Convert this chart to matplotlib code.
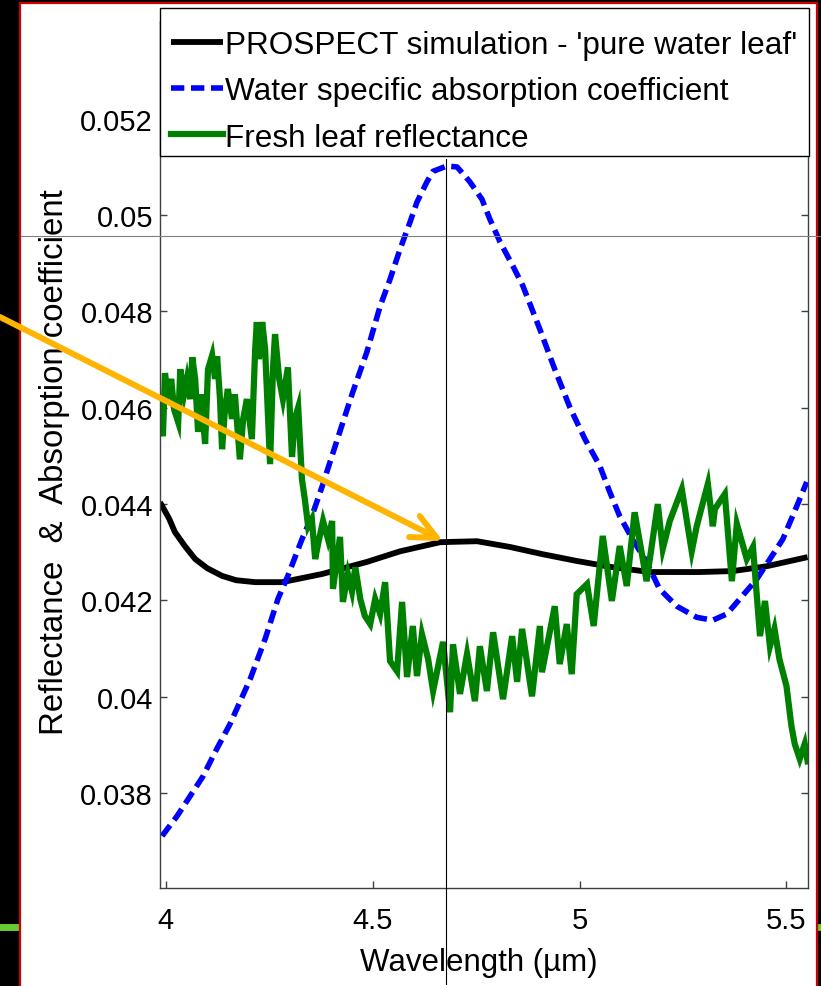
import matplotlib
matplotlib.use("Agg")
import matplotlib.pyplot as plt
from matplotlib.patches import Rectangle
from matplotlib.lines import Line2D

plt.rcParams['font.family'] = ['Liberation Sans', 'DejaVu Sans']

# PROSPECT simulation - 'pure water leaf'
wl_prospect = [3.986, 4.008, 4.022, 4.046, 4.071, 4.100, 4.136, 4.170, 4.216, 4.281,
               4.378, 4.486, 4.566, 4.663, 4.752, 4.832, 4.911, 4.993, 5.080, 5.170,
               5.290, 5.370, 5.452, 5.551]
prospect = [0.04404, 0.04370, 0.04342, 0.04313, 0.04286, 0.04267, 0.04251, 0.04242, 0.04238, 0.04238,
            0.04255, 0.04280, 0.04302, 0.04321, 0.04323, 0.04311, 0.04296, 0.04282, 0.04269, 0.04259,
            0.04259, 0.04261, 0.04271, 0.04290]

# water specific absorption coefficient
wl_water = [3.991, 4.027, 4.059, 4.090, 4.119, 4.155, 4.204, 4.240, 4.271, 4.295,
            4.329, 4.353, 4.378, 4.414, 4.452, 4.486, 4.518, 4.542, 4.566, 4.590,
            4.607, 4.631, 4.646, 4.679, 4.704, 4.735, 4.764, 4.783, 4.808, 4.839,
            4.863, 4.904, 4.940, 4.977, 5.013, 5.049, 5.073, 5.097, 5.128, 5.162,
            5.193, 5.235, 5.283, 5.322, 5.356, 5.387, 5.428, 5.460, 5.491, 5.525, 5.549]
water = [0.03711, 0.03752, 0.03794, 0.03835, 0.03885, 0.03943, 0.04037, 0.04120, 0.04203, 0.04251,
         0.04327, 0.04375, 0.04437, 0.04533, 0.04633, 0.04716, 0.04811, 0.04867, 0.04929, 0.04985,
         0.05027, 0.05069, 0.05091, 0.05102, 0.05100, 0.05069, 0.05033, 0.04992, 0.04944, 0.04894,
         0.04853, 0.04763, 0.04680, 0.04600, 0.04535, 0.04479, 0.04425, 0.04375, 0.04327, 0.04280,
         0.04224, 0.04188, 0.04165, 0.04159, 0.04172, 0.04203, 0.04244, 0.04286, 0.04327, 0.04396, 0.04446]

# fresh leaf reflectance (noisy measurement)
wl_leaf = [3.986, 3.993, 3.998, 4.006, 4.013, 4.020, 4.030, 4.035, 4.044, 4.051,
           4.059, 4.064, 4.071, 4.078, 4.085, 4.095, 4.102, 4.112, 4.119, 4.124,
           4.131, 4.136, 4.143, 4.150, 4.160, 4.167, 4.179, 4.187, 4.196, 4.208,
           4.216, 4.220, 4.225, 4.233, 4.240, 4.252, 4.259, 4.264, 4.274, 4.283,
           4.295, 4.305, 4.312, 4.320, 4.329, 4.336, 4.344, 4.353, 4.361, 4.368,
           4.380, 4.392, 4.402, 4.404, 4.421, 4.428, 4.440, 4.450, 4.458, 4.470,
           4.481, 4.494, 4.506, 4.518, 4.530, 4.542, 4.559, 4.571, 4.583, 4.597,
           4.607, 4.619, 4.634, 4.646, 4.670, 4.687, 4.694, 4.711, 4.728, 4.747,
           4.759, 4.776, 4.791, 4.815, 4.837, 4.849, 4.861, 4.885, 4.904, 4.909,
           4.940, 4.952, 4.969, 4.981, 4.993, 5.018, 5.034, 5.056, 5.078, 5.097,
           5.114, 5.133, 5.162, 5.189, 5.201, 5.218, 5.247, 5.271, 5.283, 5.310,
           5.322, 5.327, 5.351, 5.368, 5.380, 5.404, 5.419, 5.436, 5.448, 5.460,
           5.471, 5.483, 5.500, 5.512, 5.520, 5.532, 5.544, 5.551]
leaf = [0.04577, 0.04541, 0.04672, 0.04618, 0.04660, 0.04597, 0.04570, 0.04680, 0.04628, 0.04660,
        0.04618, 0.04705, 0.04660, 0.04550, 0.04628, 0.04525, 0.04680, 0.04709, 0.04660, 0.04707,
        0.04618, 0.04514, 0.04597, 0.04639, 0.04577, 0.04628, 0.04493, 0.04577, 0.04618, 0.04535,
        0.04722, 0.04778, 0.04701, 0.04778, 0.04722, 0.04483, 0.04680, 0.04753, 0.04660, 0.04618,
        0.04684, 0.04498, 0.04577, 0.04601, 0.04452, 0.04410, 0.04354, 0.04369, 0.04286, 0.04317,
        0.04365, 0.04327, 0.04365, 0.04224, 0.04332, 0.04197, 0.04255, 0.04219, 0.04269, 0.04203,
        0.04168, 0.04151, 0.04203, 0.04172, 0.04238, 0.04074, 0.04053, 0.04197, 0.04041, 0.04147,
        0.04043, 0.04130, 0.04078, 0.04012, 0.04114, 0.03968, 0.04109, 0.04006, 0.04089, 0.03991,
        0.04105, 0.04012, 0.04134, 0.03995, 0.04126, 0.04031, 0.04141, 0.04001, 0.04147, 0.04051,
        0.04188, 0.04068, 0.04151, 0.04047, 0.04213, 0.04234, 0.04147, 0.04334, 0.04199, 0.04313,
        0.04230, 0.04383, 0.04240, 0.04400, 0.04307, 0.04365, 0.04431, 0.04302, 0.04354, 0.04442,
        0.04354, 0.04390, 0.04421, 0.04240, 0.04359, 0.04286, 0.04311, 0.04126, 0.04199, 0.04105,
        0.04141, 0.04078, 0.04022, 0.03939, 0.03902, 0.03871, 0.03902, 0.03866]

xticks = [4, 4.5, 5, 5.5]
xticklabels = ['4', '4.5', '5', '5.5']
yticks = [0.038, 0.040, 0.042, 0.044, 0.046, 0.048, 0.050, 0.052]
yticklabels = ['0.038', '0.04', '0.042', '0.044', '0.046', '0.048', '0.05', '0.052']

W, H = 821, 987
fig = plt.figure(figsize=(W / 100, H / 100), dpi=100)
fig.patch.set_facecolor('black')

# slide background: green rule behind, white panel with red border
fig.add_artist(Line2D([0, 1], [1 - 928 / H] * 2, transform=fig.transFigure,
                      color='#66cc33', lw=5, zorder=-3))
fig.add_artist(Rectangle((20 / W, -0.01), 797 / W, 1.01 - 4 / H, transform=fig.transFigure,
                         facecolor='white', edgecolor='#cc0000', lw=1.6, zorder=-2))

ax = fig.add_axes([160 / W, 1 - 889 / H, 648 / W, 866 / H])
ax.plot(wl_prospect, prospect, color='black', lw=4.2, solid_capstyle='butt',
        solid_joinstyle='round', label="PROSPECT simulation - 'pure water leaf'")
ax.plot(wl_water, water, color='#0000ff', lw=4.0, linestyle=(0, (2.4, 1.2)),
        label='Water specific absorption coefficient')
ax.plot(wl_leaf, leaf, color='#008000', lw=4.5, solid_joinstyle='miter',
        label='Fresh leaf reflectance')

ax.set_xlim(3.986, 5.552)
ax.set_ylim(0.03603, 0.05401)
ax.set_xticks(xticks)
ax.set_xticklabels(xticklabels)
ax.set_yticks(yticks)
ax.set_yticklabels(yticklabels)
ax.tick_params(direction='in', length=5, width=1, color='#404040',
               top=True, right=True, labelsize=21)
ax.tick_params(axis='x', pad=13)
ax.tick_params(axis='y', pad=5)
for s in ax.spines.values():
    s.set_color('#404040')
    s.set_linewidth(1)

ax.set_xlabel('Wavelength (µm)', fontsize=22.5, va='top')
ax.xaxis.set_label_coords(0.492, -0.068)
ax.set_ylabel('Reflectance  &  Absorption coefficient', fontsize=23.8)
ax.yaxis.set_label_coords(-0.139, 0.4925)

# legend box drawn separately so the rows can sit like the original
ax.add_artist(Rectangle((160 / W, 1 - 157 / H), 649 / W, 148 / H, transform=fig.transFigure,
                        facecolor='white', edgecolor='black', lw=1.0, clip_on=False,
                        zorder=4.5))
leg = ax.legend(loc='upper left', bbox_to_anchor=(0, 1 + 3 / 866, 1, 0), mode='expand',
                borderaxespad=0, fontsize=22.7, handlelength=1.67, handletextpad=0.05,
                borderpad=0.34, labelspacing=0.52, frameon=False)
leg.set_zorder(5)

# overlay marks from the slide
fig.add_artist(Line2D([21 / W, 1], [1 - 237 / H] * 2, transform=fig.transFigure,
                      color='#808080', lw=0.8, zorder=5))
fig.add_artist(Line2D([446 / W] * 2, [1 - 160 / H, 1 - 985 / H], transform=fig.transFigure,
                      color='black', lw=0.8, zorder=5))
ax.annotate('', xy=(443 / W, 1 - 542 / H), xycoords='figure fraction',
            xytext=(0, 1 - 318 / H), textcoords='figure fraction',
            arrowprops=dict(arrowstyle='->, head_length=1.8, head_width=0.85',
                            color='#ffb400', lw=4.3, shrinkA=0, shrinkB=0,
                            mutation_scale=10),
            annotation_clip=False, zorder=6)

fig.savefig('out.png', dpi=100, facecolor=fig.get_facecolor())
